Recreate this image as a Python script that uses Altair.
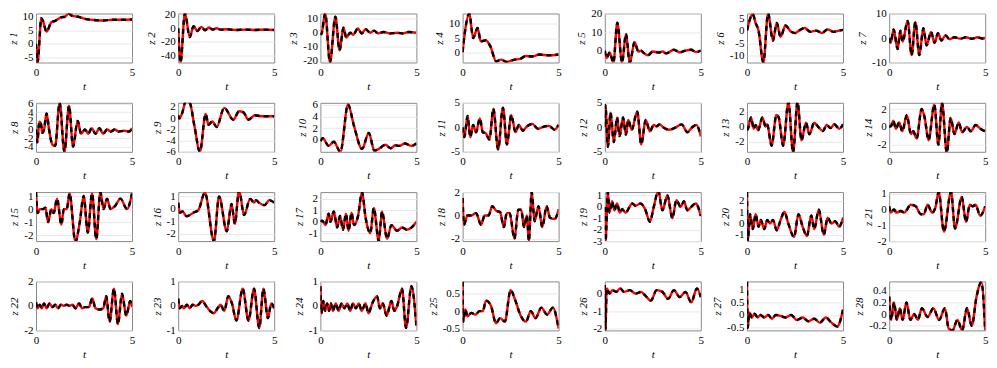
import altair as alt
import pandas as pd

# ---- data: (t, z) pairs, one list per panel ----
Z1 = [(0,0),(0.08,-6.9),(0.28,9.5),(0.36,8.5),(0.55,4.5),(0.8,8),(1.0,8.5),(1.3,9.8),(1.5,10),(1.7,11.2),(1.9,10.3),(2.2,10),(2.5,9.3),(3.0,8.8),(3.5,8.6),(4.0,8.9),(4.5,8.9),(5.0,9)]
Z2 = [(0,0),(0.12,-50),(0.35,22),(0.6,-13),(0.8,3),(1.0,-4),(1.2,2),(1.4,-3),(1.6,1),(1.8,-2),(2.0,0),(2.2,-2),(2.5,-1.5),(3.0,-2.5),(3.5,-2),(4.0,-2.5),(4.5,-2),(5,-2.5)]
Z3 = [(0,0),(0.05,-1),(0.25,13.7),(0.5,-21.2),(0.78,11.5),(1.0,-12.5),(1.2,3.5),(1.35,-3.5),(1.55,0),(1.7,-1.5),(1.95,3),(2.15,-0.5),(2.35,2.5),(2.6,0),(2.8,1.5),(3.0,-0.5),(3.3,0.5),(3.6,-0.5),(4.0,0),(4.3,-0.5),(4.6,0.5),(5,0)]
Z4 = [(0,0),(0.1,6),(0.35,13.6),(0.55,5),(0.78,8.5),(0.95,3.8),(1.2,4.2),(1.45,2),(1.75,-3.2),(2.0,-2.6),(2.3,-3.4),(2.7,-2.6),(3.0,-2.3),(3.3,-1.3),(3.6,-1.5),(4.0,-0.8),(4.5,-1.1),(5,-0.8)]
Z5 = [(0,0),(0.1,-4),(0.25,-1),(0.45,-6.5),(0.65,15),(0.9,-6.5),(1.1,9),(1.3,-6.5),(1.55,4.5),(1.75,-0.5),(1.9,0),(2.0,-1),(2.25,-2.5),(2.5,-0.5),(2.8,-1),(3.0,-0.5),(3.2,-1.5),(3.6,0.5),(3.9,-1),(4.2,0),(4.5,0.5),(4.75,-0.8),(5,0)]
Z6 = [(0,0),(0.3,6.5),(0.45,3),(0.6,0),(0.85,-12.7),(1.1,6.8),(1.35,-4),(1.55,3),(1.75,-2.5),(2.0,2),(2.3,-0.5),(2.5,-1),(2.75,0.2),(3.0,1),(3.3,-0.5),(3.6,0),(3.9,-1),(4.2,0.5),(4.5,-0.5),(4.8,0),(5,0.3)]
Z7 = [(0,0),(0.08,-2),(0.23,3.5),(0.44,-4.5),(0.58,3),(0.7,-1.5),(0.96,7),(1.17,-7),(1.36,6.5),(1.57,-7),(1.78,4),(1.95,-3),(2.18,2.5),(2.36,-2),(2.54,2),(2.72,-1),(2.93,1),(3.15,-0.5),(3.4,0.3),(3.7,-0.3),(4.0,0.3),(4.3,-0.3),(4.6,0.3),(4.85,-0.2),(5,0)]
Z8 = [(0,0),(0.07,-3),(0.17,1.8),(0.25,1.5),(0.33,-0.8),(0.42,0),(0.55,3.7),(0.68,0),(0.85,-3.5),(1.0,-3.8),(1.23,6.2),(1.48,-5.2),(1.72,5.5),(1.93,-4),(2.17,2),(2.35,-1),(2.55,0),(2.72,-1),(2.9,0.3),(3.1,-1),(3.3,0.3),(3.5,-1),(3.7,0),(3.9,-0.5),(4.1,0),(4.3,-0.5),(4.6,-0.3),(4.85,-0.5),(5,0.3)]
Z9 = [(0,0.5),(0.05,-0.1),(0.2,0.8),(0.4,3),(0.6,2.7),(0.85,-1.5),(1.13,-6),(1.43,0.7),(1.58,-1.2),(1.78,-0.6),(2.0,-1.6),(2.4,1.8),(2.87,-0.3),(3.17,1.2),(3.4,1),(3.66,-0.3),(4.0,0.5),(4.35,0.3),(5,0.3)]
Z10 = [(0,-0.2),(0.12,0.3),(0.43,-1),(0.7,-0.3),(1.04,-2),(1.44,6),(1.74,2.5),(2.17,-1.5),(2.52,1.2),(2.81,-1.8),(3.05,-1.5),(3.39,-0.8),(3.65,-1.4),(3.9,-0.9),(4.1,-1),(4.4,-0.6),(4.75,-1),(5,-0.6)]
Z11 = [(0,0),(0.09,-2),(0.26,2.3),(0.4,-2),(0.55,0.5),(0.7,-1),(0.9,1.8),(1.05,-1),(1.2,-1.2),(1.4,-2.5),(1.6,3.8),(1.85,-4.5),(2.1,4),(2.31,-3.5),(2.53,2.5),(2.76,-1),(2.93,0.5),(3.14,-0.7),(3.3,0),(3.63,0.7),(3.92,-0.3),(4.2,0.1),(4.5,0.3),(4.79,-0.5),(5,0.5)]
Z12 = [(0,0),(0.03,4.5),(0.16,-4),(0.3,3),(0.47,-3),(0.64,2),(0.77,-1.8),(0.95,2),(1.1,-1.5),(1.22,1.5),(1.4,-0.5),(1.69,3.2),(1.9,-3.5),(2.13,1.5),(2.35,-0.8),(2.55,0.5),(2.7,0.2),(2.85,0.6),(3.05,0),(3.35,-0.5),(3.7,0),(4.0,0.6),(4.3,-1),(4.55,0),(4.77,0.5),(5,-1.8)]
Z13 = [(0,-0.5),(0.05,-0.3),(0.21,1.2),(0.35,-0.3),(0.45,0.2),(0.58,-0.5),(0.8,1.2),(0.97,0),(1.05,0.3),(1.28,-2.5),(1.53,1.5),(1.65,1.2),(1.88,-2.5),(2.16,3.2),(2.4,-3.4),(2.63,3.2),(2.84,-1.8),(3.07,0.5),(3.25,-1),(3.5,0.5),(3.7,0),(3.95,-0.6),(4.15,0.2),(4.35,-0.2),(4.55,0.3),(4.8,-0.3),(5,0.3)]
Z14 = [(0,0),(0.1,0.1),(0.21,0.7),(0.35,-0.2),(0.52,0.5),(0.68,-0.5),(0.92,1.3),(1.13,-0.8),(1.25,-0.5),(1.43,-1.3),(1.69,2),(1.85,1),(2.05,-1.5),(2.35,2.5),(2.56,-2),(2.75,2.7),(3.0,-2.9),(3.2,1),(3.4,-0.8),(3.62,0.5),(3.8,-0.6),(4.05,0),(4.25,-0.5),(4.5,0.2),(4.75,-0.2),(5,-0.5)]
Z15 = [(0,1.3),(0.09,-0.3),(0.2,0),(0.35,0),(0.49,0.1),(0.63,-1),(0.8,0),(0.92,-0.3),(1.1,0.8),(1.32,-1.2),(1.45,0),(1.6,0),(1.75,1.2),(2.05,-2.5),(2.28,-1),(2.48,1),(2.7,-1.8),(2.92,1.2),(3.14,-2.3),(3.35,1.3),(3.52,0),(3.7,0.8),(3.88,0),(4.1,0.2),(4.4,0.8),(4.74,0),(5,1.2)]
Z16 = [(0,0.5),(0.09,-0.3),(0.22,-0.2),(0.44,-0.6),(0.8,-0.3),(1.05,-0.1),(1.39,1.3),(1.86,-2.6),(2.13,1),(2.53,-1.8),(2.78,0.4),(2.95,-1.2),(3.17,1.5),(3.43,-0.5),(3.75,0.8),(3.95,0.5),(4.05,0.7),(4.2,0.5),(4.5,0.3),(4.75,0.7),(5,0.5)]
Z17 = [(0,0),(0.1,0.1),(0.26,-0.3),(0.43,0.7),(0.52,0),(0.7,0.9),(0.87,-0.5),(1.02,0.5),(1.18,-0.7),(1.33,0.7),(1.47,-0.8),(1.62,0.8),(1.75,-0.3),(1.96,0.5),(2.17,2.6),(2.35,0.4),(2.6,-1),(2.78,1.2),(3.04,-1.7),(3.21,0.9),(3.47,-1.5),(3.7,-0.3),(3.99,-0.8),(4.25,-0.5),(4.5,-0.7),(4.75,-0.5),(5,0)]
Z18 = [(0,1.5),(0.07,-0.8),(0.25,0),(0.45,0),(0.7,0.2),(0.96,-0.8),(1.15,0),(1.35,0),(1.55,0.8),(1.75,0.4),(1.95,0.3),(2.15,-1),(2.3,0.2),(2.45,0.2),(2.7,-2),(2.9,0.5),(3.05,0.5),(3.2,-1),(3.35,0),(3.45,-2.2),(3.6,2),(3.75,-0.5),(3.95,0.8),(4.15,-1),(4.38,0.8),(4.55,-0.2),(4.8,-0.3),(5,0.5)]
Z19 = [(0,0),(0.04,-3),(0.16,1.3),(0.24,-0.5),(0.38,0.5),(0.5,-0.3),(0.64,0.3),(0.78,-0.5),(0.9,-0.2),(1.08,-0.5),(1.43,0.3),(1.6,0.1),(1.86,0.3),(2.1,-0.2),(2.35,-1.3),(2.55,0),(2.79,1.4),(3.0,-0.3),(3.26,1),(3.52,-1),(3.73,0.6),(3.95,0),(4.12,0.5),(4.3,-0.3),(4.5,0),(4.74,0.3),(5,-0.8)]
Z20 = [(0,2.75),(0.04,-1.55),(0.16,0.8),(0.3,-0.5),(0.45,0.8),(0.6,-0.3),(0.72,0.3),(0.9,-0.5),(1.05,0.3),(1.2,0),(1.35,0.3),(1.55,-0.6),(1.75,0.3),(1.95,1),(2.15,0),(2.45,-1.2),(2.68,0.8),(2.9,-0.3),(3.12,-1.1),(3.35,0.7),(3.5,-0.5),(3.74,1.2),(4.0,-1),(4.2,0.5),(4.4,0),(4.6,0.2),(4.8,-0.3),(5,0.5)]
Z21 = [(0,0.2),(0.08,-0.2),(0.25,0),(0.38,-0.2),(0.6,-0.1),(0.78,-0.2),(1.13,0.3),(1.38,0.2),(1.65,-0.3),(1.8,-0.3),(2.0,0.3),(2.23,-0.2),(2.4,0.1),(2.58,1.1),(2.85,-1.4),(3.22,1.1),(3.43,-1.2),(3.78,0.8),(4.0,-0.8),(4.2,0.3),(4.35,0.2),(4.5,0.3),(4.74,-0.4),(5,0.2)]
Z22 = [(0,0.3),(0.08,-0.2),(0.2,0.1),(0.3,-0.2),(0.42,0.2),(0.55,-0.2),(0.7,0.2),(0.85,-0.1),(1.0,0.1),(1.15,-0.2),(1.3,0.1),(1.45,0),(1.6,0.1),(1.75,0),(1.9,0.1),(2.05,-0.2),(2.25,0.2),(2.4,-0.2),(2.55,-0.1),(2.75,-0.1),(2.93,0.6),(3.1,-0.2),(3.3,-0.3),(3.5,-0.2),(3.66,0.8),(3.83,-1.3),(4.06,1.4),(4.27,-1.5),(4.48,1),(4.7,-0.8),(4.91,0.4),(5,-0.1)]
Z23 = [(0,0.3),(0.08,-0.1),(0.2,0),(0.3,-0.1),(0.45,0.05),(0.6,-0.1),(0.75,0.05),(0.9,0),(1.05,0.05),(1.25,0.2),(1.45,0),(1.65,-0.2),(1.85,-0.3),(2.05,-0.1),(2.2,0.05),(2.4,-0.2),(2.61,0.4),(2.8,0.1),(3.03,-0.6),(3.36,0.7),(3.66,-0.6),(3.95,0.7),(4.22,-0.9),(4.44,0.7),(4.67,-0.5),(4.85,0.1),(5,-0.1)]
Z24 = [(0,0.8),(0.06,-0.3),(0.15,0.2),(0.25,-0.2),(0.35,0.1),(0.45,-0.2),(0.55,0.1),(0.65,-0.2),(0.8,0.1),(0.95,-0.2),(1.1,0.1),(1.25,-0.1),(1.4,0.1),(1.55,-0.2),(1.7,0.1),(1.85,-0.1),(2.0,0.1),(2.15,-0.2),(2.35,0.1),(2.5,-0.3),(2.7,0.1),(2.95,0.4),(3.1,-0.1),(3.25,0.1),(3.45,-0.4),(3.7,0.2),(3.85,-0.2),(4.0,0),(4.25,0.7),(4.46,-0.9),(4.74,0.8),(5,-0.8)]
Z25 = [(0,0.85),(0.03,-0.3),(0.14,0.05),(0.26,-0.15),(0.45,-0.05),(0.66,-0.1),(0.88,0),(1.05,0),(1.22,0.3),(1.48,0.15),(1.74,-0.35),(1.95,-0.2),(2.2,-0.3),(2.5,0.6),(2.75,0.3),(3.0,-0.1),(3.3,-0.3),(3.55,0),(3.8,-0.2),(4.1,0.1),(4.4,-0.1),(4.7,0.1),(5,-0.5)]
Z26 = [(0,0.5),(0.03,-2.1),(0.1,0.3),(0.25,0),(0.4,0.2),(0.6,0.1),(0.8,0.3),(1.0,0.1),(1.3,0.2),(1.6,0),(1.9,0.1),(2.1,-0.1),(2.4,-0.4),(2.7,0.2),(3.0,0.1),(3.3,-0.3),(3.6,0.2),(3.9,-0.2),(4.2,0.1),(4.5,-0.5),(4.8,0.3),(5,-0.2)]
Z27 = [(0,1.3),(0.04,-0.5),(0.12,0.1),(0.25,-0.1),(0.4,0.05),(0.55,-0.1),(0.7,0),(0.9,-0.1),(1.1,0),(1.3,-0.15),(1.5,0),(1.8,-0.05),(2.0,-0.1),(2.3,0),(2.6,-0.2),(2.9,-0.1),(3.2,-0.25),(3.5,-0.15),(3.8,-0.3),(4.1,-0.1),(4.4,-0.3),(4.7,-0.45),(5,0.2)]
Z28 = [(0,0.3),(0.1,-0.1),(0.25,0.2),(0.4,-0.1),(0.55,0.1),(0.7,-0.1),(0.9,0.2),(1.1,-0.1),(1.3,0),(1.5,-0.1),(1.7,0.1),(2.0,-0.05),(2.3,0.1),(2.6,-0.1),(2.9,0.1),(3.1,-0.25),(3.3,-0.28),(3.55,-0.1),(3.8,-0.28),(4.05,0.1),(4.3,-0.2),(4.55,0.3),(4.8,0.55),(5,-0.28)]

SERIES = [Z1, Z2, Z3, Z4, Z5, Z6, Z7, Z8, Z9, Z10, Z11, Z12, Z13, Z14,
          Z15, Z16, Z17, Z18, Z19, Z20, Z21, Z22, Z23, Z24, Z25, Z26, Z27, Z28]

Y_DOMAINS = [[-6.9, 11.2], [-50, 21.5], [-21.2, 13.7], [-3.6, 13.6], [-6.4, 20], [-12.7, 6.8], [-10, 10],
             [-5.2, 6.2], [-6, 2.7], [-2, 6.3], [-5, 5], [-5, 5], [-3.3, 3.1], [-2.8, 2.7],
             [-2.45, 1.3], [-2.6, 1.35], [-1.7, 2.6], [-2.2, 2], [-3, 1.3], [-1.55, 2.75], [-2, 1.1],
             [-2, 2], [-1, 1], [-1, 1], [-0.55, 0.85], [-2.1, 0.7], [-0.6, 1.3], [-0.28, 0.56]]

Y_TICKS = [[-5, 0, 5, 10], [-40, -20, 0, 20], [-20, -10, 0, 10], [0, 5, 10], [0, 10, 20], [-10, -5, 0, 5], [-10, 0, 10],
           [-4, -2, 0, 2, 4, 6], [-6, -4, -2, 0, 2], [0, 2, 4, 6], [-5, 0, 5], [-5, 0, 5], [-2, 0, 2], [-2, 0, 2],
           [-2, -1, 0, 1], [-2, -1, 0, 1], [-1, 0, 1, 2], [-2, 0, 2], [-3, -2, -1, 0, 1], [-1, 0, 1, 2], [-2, -1, 0, 1],
           [-2, 0, 2], [-1, 0, 1], [-1, 0, 1], [-0.5, 0, 0.5], [-2, -1, 0], [-0.5, 0, 0.5, 1], [-0.2, 0, 0.2, 0.4]]

X_TICKS = [0, 5]
X_TITLE = "t"
Y_TITLES = [f"z {i}" for i in range(1, 29)]

FONT = "Liberation Serif"


def panel(i):
    df = pd.DataFrame(SERIES[i], columns=["t", "z"])
    x = alt.X("t:Q",
              scale=alt.Scale(domain=[0, 5], nice=False),
              axis=alt.Axis(values=X_TICKS, title=X_TITLE, grid=False, labelFlush=False,
                            labelPadding=4, titlePadding=3))
    y = alt.Y("z:Q",
              scale=alt.Scale(domain=Y_DOMAINS[i], nice=False, zero=False),
              axis=alt.Axis(values=Y_TICKS[i], title=Y_TITLES[i], grid=True,
                            labelOverlap=False, labelExpr="toString(datum.value)",
                            labelPadding=3, titlePadding=4))
    base = alt.Chart(df).encode(x=x, y=y)
    red = base.mark_line(color="#ff0000", strokeWidth=2.4, interpolate="monotone", clip=True)
    blk = base.mark_line(color="#000000", strokeWidth=2.4, strokeDash=[5, 4],
                         interpolate="monotone", clip=True)
    return alt.layer(red, blk).properties(width=96, height=49)


chart = alt.concat(
    *[panel(i) for i in range(28)],
    columns=7,
    spacing={"row": 40.3, "column": 46.2},
    bounds="flush",
    padding={"left": -2, "top": -1.5, "right": 0, "bottom": 0},
    background="white",
).configure_axis(
    labelFont=FONT, labelFontSize=11, labelColor="#000000",
    titleFont=FONT, titleFontSize=11, titleColor="#000000",
    titleFontStyle="italic", titleFontWeight="normal",
    domain=False, ticks=False,
    gridColor="#e8e8e8", gridWidth=1,
).configure_view(
    stroke="#8a8a8a", strokeWidth=1,
)

chart.save("out.html", embed_options={"renderer": "svg", "actions": False})
